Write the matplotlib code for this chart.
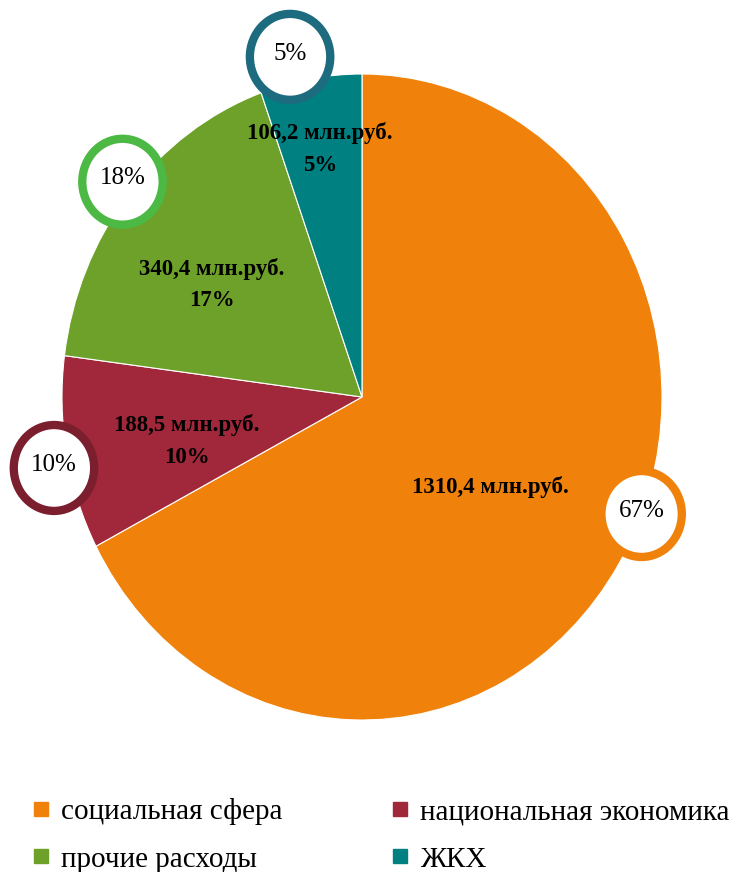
import numpy as np
import matplotlib.pyplot as plt
from matplotlib.patches import Ellipse
from matplotlib.lines import Line2D

plt.rcParams['font.family'] = ['Liberation Serif', 'DejaVu Serif']

# data
categories = ["социальная сфера", "национальная экономика", "прочие расходы", "ЖКХ"]
values = [1310.4, 188.5, 340.4, 106.2]
badge_labels = ["67%", "10%", "18%", "5%"]
colors = ["#F0820B", "#A0283A", "#6EA12A", "#008080"]
ring_colors = ["#F0820B", "#7B1F2E", "#4CB944", "#1D6B7F"]

# label placement (radius fraction, angle shift in degrees)
inner_r = [0.51, 0.60, 0.61, 0.78]
inner_shift = [-2, 3, 4, 0.5]
badge_r = [1.0, 1.05, 1.04, 1.08]
badge_shift = [10, 2, -1, 3]

fig = plt.figure(figsize=(7.37, 8.72), dpi=100)
ax = fig.add_axes([62 / 737, (872 - 720) / 872, 600 / 737, 646 / 872])

wedges, _ = ax.pie(values, colors=colors, startangle=90, counterclock=False,
                   radius=1, wedgeprops=dict(linewidth=0.8, edgecolor='white'))
ax.set_aspect('auto')
ax.set_xlim(-1, 1)
ax.set_ylim(-1, 1)
ax.axis('off')

total = sum(values)
for i, w in enumerate(wedges):
    mid = np.deg2rad((w.theta1 + w.theta2) / 2)
    # inner value label
    a = mid + np.deg2rad(inner_shift[i])
    x, y = inner_r[i] * np.cos(a), inner_r[i] * np.sin(a)
    val = f"{values[i]:.1f}".replace(".", ",") + " млн.руб."
    if i == 0:
        txt = val
    else:
        txt = val + "\n" + f"{round(100 * values[i] / total)}%"
    ax.text(x, y, txt, ha='center', va='center', fontsize=16.5, fontweight='bold',
            linespacing=1.65, clip_on=False)
    # outer badge
    a = mid + np.deg2rad(badge_shift[i])
    bx, by = badge_r[i] * np.cos(a), badge_r[i] * np.sin(a)
    ax.add_patch(Ellipse((bx, by), 0.268, 0.266, facecolor='white',
                         edgecolor=ring_colors[i], linewidth=6, clip_on=False, zorder=5))
    ax.text(bx, by + 0.01, badge_labels[i], ha='center', va='center', fontsize=18,
            zorder=6, clip_on=False)

order = [0, 2, 1, 3]
handles = [Line2D([], [], marker='s', linestyle='none', markersize=10,
                  markerfacecolor=colors[k], markeredgecolor=colors[k]) for k in order]
fig.legend(handles, [categories[k] for k in order], ncol=2, frameon=False,
           loc='upper left', bbox_to_anchor=(3 / 737, 1 - 772 / 872),
           fontsize=21, handletextpad=0.3, columnspacing=3.6, labelspacing=0.72,
           handlelength=0.8)

fig.savefig("out.png", dpi=100)
